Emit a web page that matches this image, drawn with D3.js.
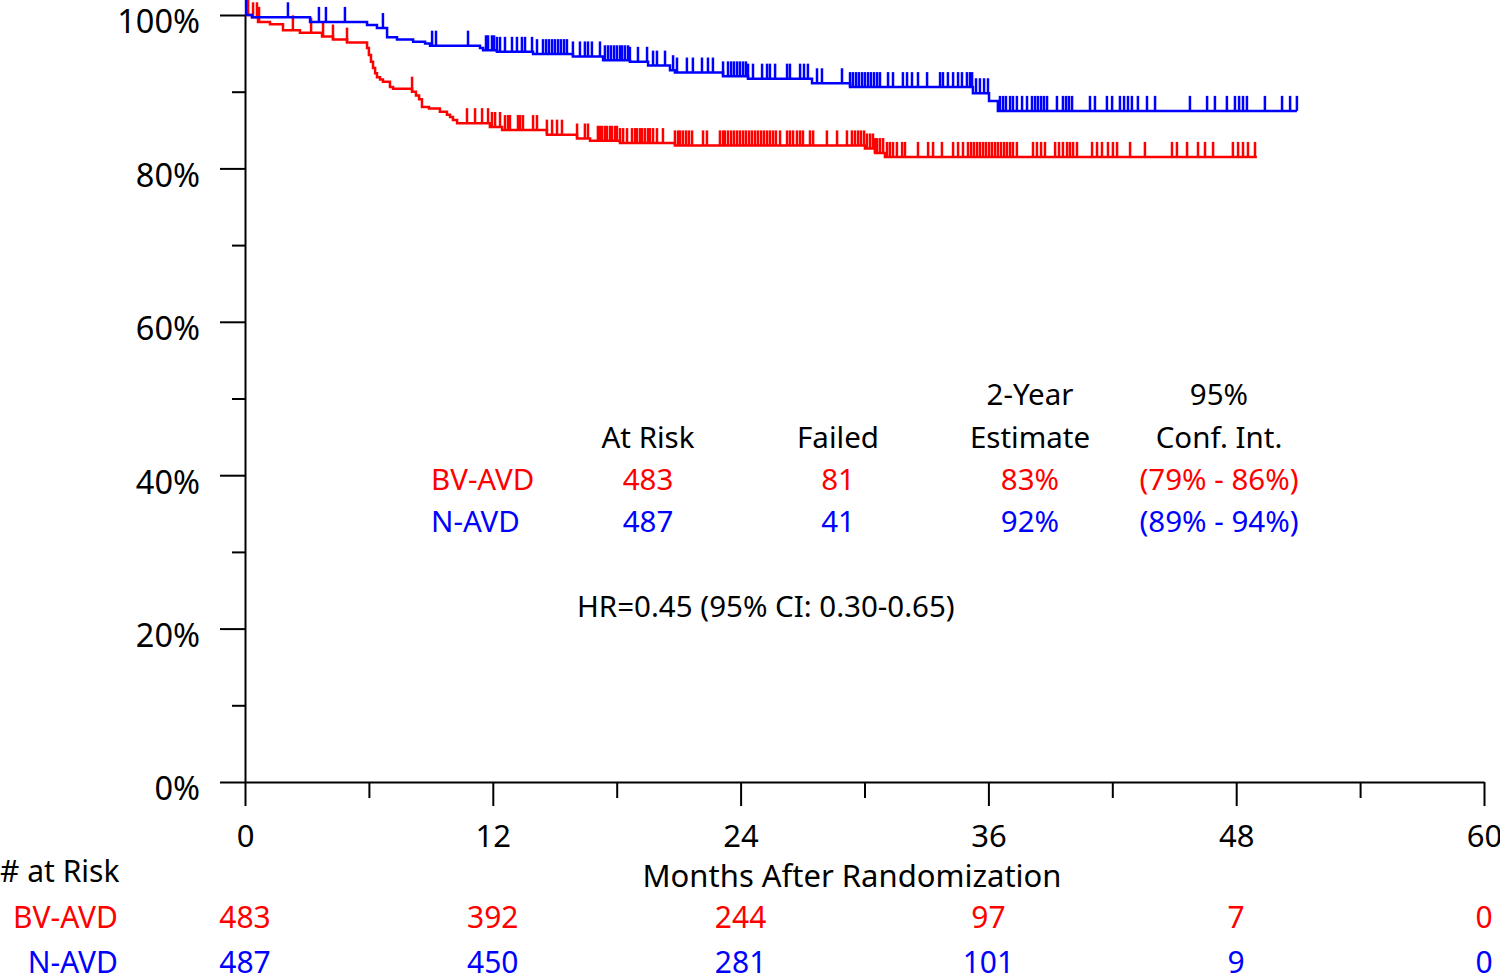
<!DOCTYPE html>
<html>
<head>
<meta charset="utf-8">
<script src="https://cdn.jsdelivr.net/npm/d3@7"></script>
<style>
  body { margin: 0; background: #fff; }
  svg { font-family: "Noto Sans", "Open Sans", sans-serif; }
</style>
</head>
<body>
<div id="chart"></div>
<script>
// ---- data (months, % event free) ----
var armNames = ["BV-AVD", "N-AVD"];
var armColors = ["#ff0000", "#0000ff"];

var bvTimes = [0, 0.34, 0.63, 1.21, 1.84, 2.66, 3.73, 4.26, 4.94, 5.91, 6.00, 6.10, 6.20, 6.30, 6.39, 6.54, 6.68,
  7.02, 7.17, 8.09, 8.28, 8.43, 8.57, 8.91, 9.44, 9.78, 9.93, 10.07, 10.27, 11.86, 12.45, 14.62, 16.08,
  16.71, 18.16, 20.82, 30.02, 30.51, 30.99];
var bvSurv = [100, 99.7, 99.1, 98.8, 98.0, 97.7, 97.2, 96.8, 96.4, 95.7, 94.8, 93.9, 93.1, 92.4, 91.9, 91.6, 91.3,
  90.6, 90.4, 90.0, 89.5, 89.0, 88.0, 87.8, 87.4, 87.0, 86.7, 86.3, 85.9, 85.4, 85.0, 84.4, 83.9,
  83.6, 83.3, 83.0, 82.6, 82.0, 81.5];
var bvEnd = 49.0;
var bvCensor = [0.15, 0.39, 0.58, 0.68, 2.32, 3.20, 3.78, 4.26, 4.94, 8.09, 10.75, 11.14, 11.48, 11.77, 11.96,
  12.11, 12.35, 12.59, 12.74, 12.83, 13.22, 13.32, 13.46, 13.95, 14.14, 14.62, 14.87, 15.11, 15.35, 16.08,
  16.46, 16.61, 17.09, 17.19, 17.29, 17.43, 17.53, 17.68, 17.77, 17.92, 18.01, 18.16, 18.31, 18.50, 18.74,
  18.89, 18.98, 19.13, 19.23, 19.37, 19.52, 19.61, 19.76, 19.95, 20.24, 20.82, 20.97, 21.07, 21.21, 21.36,
  21.50, 21.65, 22.18, 22.37, 23.00, 23.15, 23.24, 23.39, 23.54, 23.68, 23.83, 23.97, 24.12, 24.26, 24.41,
  24.55, 24.70, 24.84, 24.99, 25.13, 25.28, 25.42, 25.57, 25.71, 25.91, 26.25, 26.39, 26.54, 26.73, 26.88,
  27.02, 27.36, 27.51, 28.18, 28.67, 29.15, 29.39, 29.54, 29.69, 29.83, 29.98, 30.12, 30.27, 30.41, 30.51,
  30.61, 30.75, 30.90, 31.09, 31.23, 31.38, 31.57, 31.82, 31.96, 32.59, 33.08, 33.32, 33.75, 34.29, 34.53,
  34.77, 35.01, 35.16, 35.30, 35.45, 35.59, 35.74, 35.88, 36.03, 36.17, 36.32, 36.46, 36.61, 36.76, 36.90,
  37.05, 37.19, 37.38, 38.16, 38.35, 38.55, 38.74, 39.23, 39.42, 39.61, 39.81, 39.95, 40.10, 40.29, 41.02,
  41.26, 41.50, 41.79, 42.03, 42.23, 42.86, 43.58, 44.89, 45.13, 45.62, 46.15, 46.49, 46.88, 47.84, 48.09,
  48.33, 48.57, 48.91];

var nTimes = [0, 0.34, 3.15, 5.91, 6.39, 6.88, 7.36, 8.14, 8.72, 8.96, 11.38, 11.53, 12.20, 13.95, 15.88, 17.34,
  18.64, 19.52, 20.58, 20.82, 23.15, 24.36, 27.46, 29.30, 35.25, 36.03, 36.46];
var nSurv = [100, 99.7, 99.1, 98.7, 98.3, 97.1, 96.8, 96.5, 96.3, 96.0, 95.7, 95.4, 95.2, 94.9, 94.6, 94.1,
  93.9, 93.4, 92.8, 92.5, 92.0, 91.7, 91.1, 90.6, 89.8, 88.8, 87.5];
var nEnd = 50.94;
var nCensor = [0.05, 2.08, 3.58, 3.92, 4.84, 6.68, 9.06, 9.25, 10.80, 11.67, 11.77, 11.96, 12.06, 12.20, 12.35,
  12.59, 12.93, 13.17, 13.41, 13.56, 13.90, 14.14, 14.43, 14.58, 14.72, 14.87, 15.01, 15.16, 15.30, 15.45,
  15.59, 15.88, 16.22, 16.46, 16.61, 16.80, 17.19, 17.43, 17.58, 17.72, 17.87, 18.01, 18.16, 18.26, 18.40,
  18.55, 18.64, 19.03, 19.47, 19.76, 19.95, 20.34, 20.73, 20.92, 21.40, 21.69, 22.13, 22.42, 22.66, 23.15,
  23.39, 23.54, 23.68, 23.83, 23.97, 24.12, 24.26, 24.36, 24.60, 25.04, 25.28, 25.42, 25.67, 26.25, 26.39,
  26.88, 27.07, 27.26, 27.70, 27.94, 28.91, 29.30, 29.44, 29.59, 29.73, 29.88, 30.02, 30.17, 30.31, 30.46,
  30.61, 30.75, 31.14, 31.38, 31.86, 32.06, 32.30, 32.59, 33.03, 33.66, 33.80, 34.04, 34.29, 34.53, 34.72,
  34.96, 35.11, 35.21, 35.40, 35.59, 35.79, 35.98, 36.56, 36.71, 36.85, 37.05, 37.19, 37.38, 37.63, 37.87,
  38.11, 38.26, 38.40, 38.55, 38.69, 38.84, 39.32, 39.61, 39.76, 39.90, 40.05, 40.92, 41.16, 41.74, 41.99,
  42.37, 42.57, 42.76, 42.95, 43.24, 43.68, 44.07, 45.76, 46.59, 46.97, 47.55, 47.94, 48.14, 48.33, 48.52,
  49.39, 50.22, 50.61, 50.94];

// number at risk
var riskMonths = [0, 12, 24, 36, 48, 60];
var bvRisk = [483, 392, 244, 97, 7, 0];
var nRisk = [487, 450, 281, 101, 9, 0];

// summary table
var tableHead1 = ["", "", "2-Year", "95%"];
var tableHead2 = ["At Risk", "Failed", "Estimate", "Conf. Int."];
var bvRow = ["483", "81", "83%", "(79% - 86%)"];
var nRow = ["487", "41", "92%", "(89% - 94%)"];
var hrText = "HR=0.45 (95% CI: 0.30-0.65)";

var yTicks = [0, 20, 40, 60, 80, 100];
var yMinor = [10, 30, 50, 70, 90];
var xMinor = [6, 18, 30, 42, 54];

// ---- layout ----
var W = 1500, H = 975;
var margin = {left: 245, top: 15, right: 16, bottom: 193};

var svg = d3.select("#chart").append("svg")
  .attr("width", W).attr("height", H);

var x = d3.scaleLinear().domain([0, 60]).range([margin.left, W - margin.right]);
var y = d3.scaleLinear().domain([0, 100]).range([H - margin.bottom, margin.top]);

// y axis
var yAxis = svg.append("g").attr("transform", "translate(" + margin.left + ",0)")
  .call(d3.axisLeft(y).tickValues(yTicks).tickSize(25).tickSizeOuter(0).tickPadding(20)
    .tickFormat(function(d) { return d + "%"; }));
yAxis.selectAll("text").attr("dy", "0.55em").attr("font-size", 32.5);
svg.append("g").attr("transform", "translate(" + margin.left + ",0)")
  .call(d3.axisLeft(y).tickValues(yMinor).tickSize(13).tickFormat(""))
  .select(".domain").remove();

// x axis
var xAxis = svg.append("g").attr("transform", "translate(0," + y(0) + ")")
  .call(d3.axisBottom(x).tickValues(riskMonths).tickSize(24).tickSizeOuter(0).tickPadding(19));
xAxis.selectAll("text").attr("font-size", 31);
svg.append("g").attr("transform", "translate(0," + y(0) + ")")
  .call(d3.axisBottom(x).tickValues(xMinor).tickSize(16).tickFormat(""))
  .select(".domain").remove();

svg.selectAll(".domain, .tick line").attr("stroke", "#000").attr("stroke-width", 2);
svg.selectAll(".tick text").attr("fill", "#000")
  .attr("font-family", "Noto Sans, Open Sans, sans-serif");

svg.append("text").attr("x", 852).attr("y", 887).attr("text-anchor", "middle")
  .attr("font-size", 31).text("Months After Randomization");

// ---- curves ----
function survAt(times, surv, t) {
  var i = d3.bisectRight(times, t) - 1;
  return surv[Math.max(0, i)];
}

var arms = [
  {times: bvTimes, surv: bvSurv, end: bvEnd, censor: bvCensor, color: armColors[0]},
  {times: nTimes, surv: nSurv, end: nEnd, censor: nCensor, color: armColors[1]}
];

var line = d3.line()
  .x(function(d) { return x(d[0]); })
  .y(function(d) { return y(d[1]); })
  .curve(d3.curveStepAfter);

arms.forEach(function(a) {
  var pts = a.times.map(function(t, i) { return [t, a.surv[i]]; });
  pts.push([a.end, a.surv[a.surv.length - 1]]);
  svg.append("path").datum(pts)
    .attr("fill", "none").attr("stroke", a.color).attr("stroke-width", 2.5)
    .attr("d", line);

  svg.append("g").selectAll("line").data(a.censor).enter().append("line")
    .attr("x1", function(d) { return x(d); })
    .attr("x2", function(d) { return x(d); })
    .attr("y1", function(d) { return y(survAt(a.times, a.surv, d)); })
    .attr("y2", function(d) { return y(survAt(a.times, a.surv, d)) - 15; })
    .attr("stroke", a.color).attr("stroke-width", 2.5);
});

// ---- summary table ----
var colX = [648, 838, 1030, 1219];
var tab = svg.append("g").attr("font-size", 29.5).attr("text-anchor", "middle");
tab.selectAll(".h1").data(tableHead1).enter().append("text")
  .attr("x", function(d, i) { return colX[i]; }).attr("y", 405).text(function(d) { return d; });
tab.selectAll(".h2").data(tableHead2).enter().append("text")
  .attr("x", function(d, i) { return colX[i]; }).attr("y", 448).text(function(d) { return d; });
[bvRow, nRow].forEach(function(row, r) {
  var yy = r === 0 ? 490 : 532;
  tab.append("text").attr("x", 431).attr("y", yy).attr("text-anchor", "start")
    .attr("fill", armColors[r]).text(armNames[r]);
  tab.selectAll(".r" + r).data(row).enter().append("text")
    .attr("x", function(d, i) { return colX[i]; }).attr("y", yy)
    .attr("fill", armColors[r]).text(function(d) { return d; });
});
tab.append("text").attr("x", 577).attr("y", 617).attr("text-anchor", "start").text(hrText);

// ---- number at risk ----
var risk = svg.append("g").attr("font-size", 30);
risk.append("text").attr("x", 0).attr("y", 882).text("# at Risk");
[bvRisk, nRisk].forEach(function(vals, r) {
  var yy = r === 0 ? 928 : 973;
  risk.append("text").attr("x", 118).attr("y", yy).attr("text-anchor", "end")
    .attr("fill", armColors[r]).text(armNames[r]);
  risk.selectAll(".n" + r).data(vals).enter().append("text")
    .attr("x", function(d, i) { return x(riskMonths[i]); }).attr("y", yy)
    .attr("text-anchor", "middle").attr("fill", armColors[r])
    .text(function(d) { return d; });
});
</script>
</body>
</html>
